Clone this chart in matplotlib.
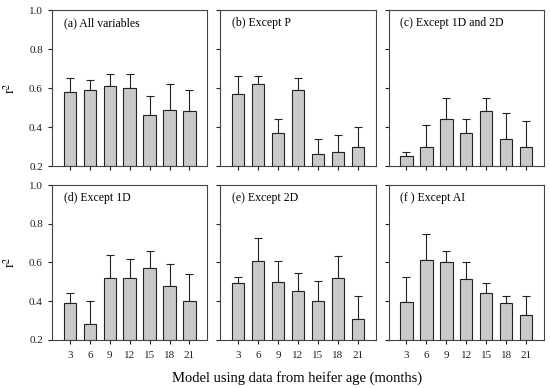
import numpy as np
import matplotlib
matplotlib.use('Agg')
import matplotlib.pyplot as plt

plt.rcParams['font.family'] = ['Liberation Serif', 'DejaVu Serif']
plt.rcParams['mathtext.fontset'] = 'stix'

ages = ['3', '6', '9', '12', '15', '18', '21']
titles = ['(a) All variables', '(b) Except P', '(c) Except 1D and 2D',
          '(d) Except 1D', '(e) Except 2D', '(f ) Except AI']

# mean r2 and upper error bar top
r2_a = [0.58, 0.59, 0.61, 0.60, 0.46, 0.49, 0.48]
top_a = [0.65, 0.64, 0.67, 0.67, 0.56, 0.62, 0.59]
r2_b = [0.57, 0.62, 0.37, 0.59, 0.26, 0.27, 0.30]
top_b = [0.66, 0.66, 0.44, 0.65, 0.34, 0.36, 0.40]
r2_c = [0.25, 0.30, 0.44, 0.37, 0.48, 0.34, 0.30]
top_c = [0.27, 0.41, 0.55, 0.44, 0.55, 0.47, 0.43]
r2_d = [0.39, 0.28, 0.52, 0.52, 0.57, 0.48, 0.40]
top_d = [0.44, 0.40, 0.64, 0.62, 0.66, 0.59, 0.54]
r2_e = [0.495, 0.61, 0.50, 0.455, 0.40, 0.52, 0.31]
top_e = [0.525, 0.725, 0.61, 0.545, 0.505, 0.635, 0.425]
r2_f = [0.395, 0.615, 0.60, 0.515, 0.44, 0.39, 0.33]
top_f = [0.525, 0.745, 0.66, 0.60, 0.495, 0.425, 0.425]

means = [r2_a, r2_b, r2_c, r2_d, r2_e, r2_f]
tops = [top_a, top_b, top_c, top_d, top_e, top_f]

fig = plt.figure(figsize=(5.5, 3.88), dpi=100)
top_gs = fig.add_gridspec(1, 3, left=0.0945, right=0.989, bottom=0.572, top=0.974, wspace=0.083)
bot_gs = fig.add_gridspec(1, 3, left=0.0945, right=0.989, bottom=0.124, top=0.523, wspace=0.083)
axes = [fig.add_subplot(top_gs[0, i]) for i in range(3)] + [fig.add_subplot(bot_gs[0, i]) for i in range(3)]

x = np.arange(len(ages))
for i, ax in enumerate(axes):
    m = np.array(means[i])
    err = np.array(tops[i]) - m
    ax.bar(x, m - 0.2, bottom=0.2, width=0.62, color='#c9c9c9', edgecolor='#222222', linewidth=0.8, zorder=2)
    ax.errorbar(x, m, yerr=[np.zeros_like(err), err], fmt='none', ecolor='#222222',
                elinewidth=0.8, capsize=3, capthick=0.8, zorder=1)
    ax.set_xlim(-0.9, 6.9)
    ax.set_ylim(0.2, 1.0)
    ax.set_yticks([0.2, 0.4, 0.6, 0.8, 1.0])
    ax.set_xticks(x)
    ax.tick_params(direction='out', length=3, width=0.8, labelsize=8, colors='#222222')
    ax.tick_params(axis='x', pad=5)
    for s in ax.spines.values():
        s.set_linewidth(0.8)
        s.set_color('#444444')
    ax.text(0.075, 0.955, titles[i], transform=ax.transAxes, fontsize=8.5, va='top', ha='left')
    if i < 3:
        ax.set_xticklabels([])
    else:
        ax.set_xticklabels(ages)
    if i in (0, 3):
        ax.set_ylabel('r$^{2}$', fontsize=10, labelpad=8)
    else:
        ax.set_yticklabels([])

fig.text(0.54, 0.008, 'Model using data from heifer age (months)', ha='center', va='bottom', fontsize=10.5)

plt.savefig('out.png', dpi=100)
